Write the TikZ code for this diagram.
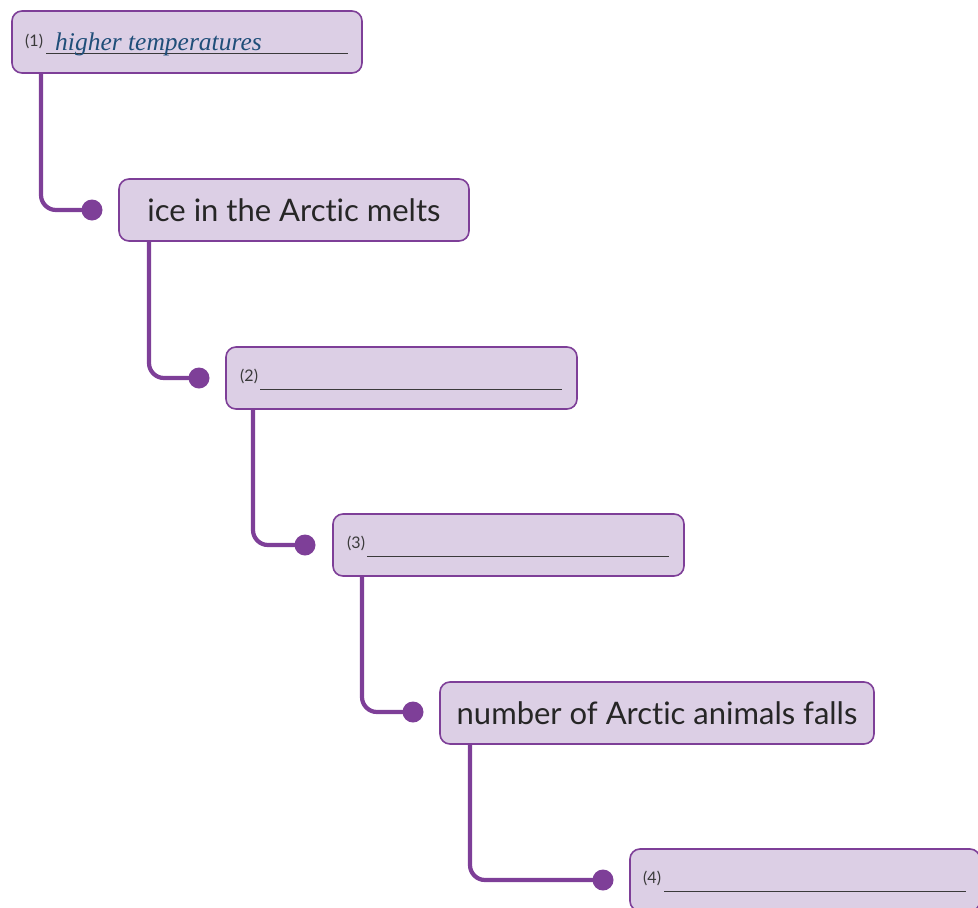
\documentclass[tikz,border=0pt]{standalone}
\usepackage{fontspec}
\setmainfont{Lato}[Ligatures={NoCommon,NoRare}]
\newfontfamily\handfont{Liberation Serif}
\begin{document}
\begin{tikzpicture}[x=1pt,y=-1pt]
\definecolor{boxfill}{HTML}{DCCFE5}
\definecolor{boxline}{HTML}{7E3F98}
\definecolor{handblue}{HTML}{1F4E79}
\definecolor{ulgray}{HTML}{3A3A3A}
\tikzset{
  stepbox/.style={draw=boxline, line width=1.6pt, fill=boxfill, rounded corners=10pt},
  link/.style={draw=boxline, line width=4.2pt, rounded corners=15pt},
  knob/.style={circle, fill=boxline, minimum size=21pt, inner sep=0pt},
  num/.style={font=\fontsize{16}{18}\selectfont, text=ulgray, anchor=base west, inner sep=0pt},
  big/.style={font=\fontsize{31}{35}\selectfont, text=black!85, inner sep=0pt},
  uline/.style={draw=ulgray, line width=1pt}
}
\useasboundingbox (0,0) rectangle (978,908);
% boxes
\path[stepbox] (12,11) rectangle (362,73);
\path[stepbox] (119,179) rectangle (469,241);
\path[stepbox] (226,347) rectangle (577,409);
\path[stepbox] (333,514) rectangle (684,576);
\path[stepbox] (440,682) rectangle (874,744);
\path[stepbox] (630,849) rectangle (980,911);
\node[big] (b2) at (294,210) {ice in the Arctic melts};
\node[big] (b5) at (657,713) {number of Arctic animals falls};
% dots
\node[knob] (d1) at (92,210) {};
\node[knob] (d2) at (199,378) {};
\node[knob] (d3) at (305,545) {};
\node[knob] (d4) at (413,712) {};
\node[knob] (d5) at (603,880) {};
\coordinate (s1) at (41,73);
\coordinate (s2) at (149,241);
\coordinate (s3) at (253,409);
\coordinate (s4) at (362,576);
\coordinate (s5) at (470,744);
\draw[link] (s1) |- (d1.center);
\draw[link] (s2) |- (d2.center);
\draw[link] (s3) |- (d3.center);
\draw[link] (s4) |- (d4.center);
\draw[link] (s5) |- (d5.center);
% labels and answer lines
\node[num] (n1) at (25,46) {(1)};
\draw[uline] (46,53) -- (348,53);
\node[anchor=base west, inner sep=0pt, text=handblue, font=\handfont\itshape\fontsize{25.5}{28}\selectfont] (h1) at (55,50) {higher temperatures};
\node[num] (n2) at (240,381) {(2)};
\draw[uline] (260,389) -- (562,389);
\node[num] (n3) at (347,548) {(3)};
\draw[uline] (367,556) -- (669,556);
\node[num] (n4) at (643,883) {(4)};
\draw[uline] (664,891) -- (966,891);
\end{tikzpicture}
\end{document}
